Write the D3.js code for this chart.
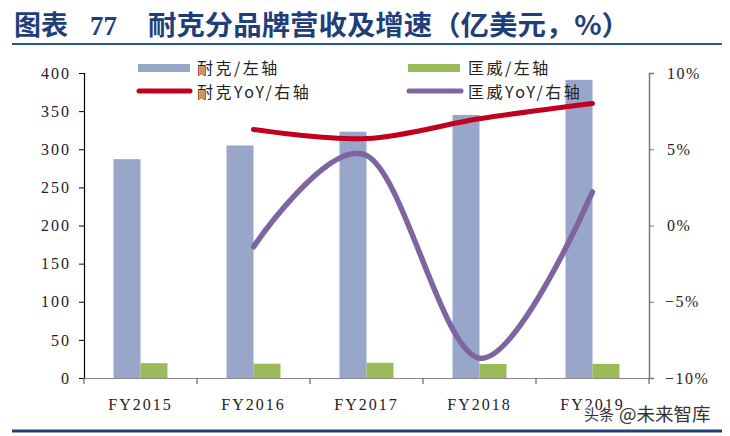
<!DOCTYPE html>
<html><head><meta charset="utf-8">
<script src="https://cdn.jsdelivr.net/npm/d3@7"></script>
<style>body{margin:0;background:#fff}svg{display:block}</style>
</head><body>
<svg id="c" width="730" height="436"></svg>
<script>
const categories = ["FY2015","FY2016","FY2017","FY2018","FY2019"];
const nikeRevenue = [287, 305, 323, 345, 391];
const converseRevenue = [19.5, 18.8, 20.0, 18.4, 18.5];
const nikeYoY = [null, 6.3, 5.7, 7.0, 8.0];
const converseYoY = [null, -1.4, 4.6, -8.7, 2.2];
const leftTicks = [0,50,100,150,200,250,300,350,400];
const rightTicks = [-10,-5,0,5,10];

const svg = d3.select("#c");
const L = 84, R = 649, T = 73, B = 378;
const serif = "'Liberation Serif','DejaVu Serif',serif";
const cjk = "'Noto Sans CJK SC','Noto Sans',sans-serif";
const C = {nike:"#98A6C9", converse:"#9BBB59", nikeL:"#C0001E", convL:"#8064A2", title:"#1F3F7A"};

// Title
const t = svg.append("text").attr("y", 35).attr("fill", C.title).attr("font-family", cjk).attr("font-weight", "bold").attr("font-size", 27);
t.append("tspan").attr("x", 14).text("图表");
t.append("tspan").attr("x", 90).attr("font-family", serif).text("77");
t.append("tspan").attr("x", 148).attr("textLength", 482).attr("lengthAdjust","spacingAndGlyphs").text("耐克分品牌营收及增速（亿美元，%）");
svg.append("line").attr("x1", 12).attr("x2", 722).attr("y1", 44).attr("y2", 44).attr("stroke", "#2B5597").attr("stroke-width", 2);
svg.append("line").attr("x1", 12).attr("x2", 722).attr("y1", 431).attr("y2", 431).attr("stroke", "#1F3F7A").attr("stroke-width", 3);

// Scales
const x0 = d3.scaleBand().domain(categories).range([L, R]).padding(0);
const bw = x0.bandwidth();
const x1 = d3.scaleBand().domain(["nike","converse"]).range([bw/2 - 27, bw/2 + 27]);
const y = d3.scaleLinear().domain([0, 400]).range([B, T]);
const y2 = d3.scaleLinear().domain([-10, 10]).range([B, T]);

// Bars
const g = svg.append("g");
g.selectAll(".nb").data(categories).join("rect")
  .attr("x", d => x0(d) + x1("nike")).attr("width", x1.bandwidth())
  .attr("y", (d,i) => y(nikeRevenue[i])).attr("height", (d,i) => y(0) - y(nikeRevenue[i]))
  .attr("fill", C.nike);
g.selectAll(".cb").data(categories).join("rect")
  .attr("x", d => x0(d) + x1("converse")).attr("width", x1.bandwidth())
  .attr("y", (d,i) => y(converseRevenue[i])).attr("height", (d,i) => y(0) - y(converseRevenue[i]))
  .attr("fill", C.converse);

// Axes
const axL = svg.append("g").attr("transform", `translate(${L},0)`)
  .call(d3.axisLeft(y).tickValues(leftTicks).tickSize(5).tickPadding(10));
axL.select(".domain").attr("stroke", "#000").attr("stroke-width", 1.2);
axL.selectAll(".tick line").attr("stroke", "#000");
axL.selectAll("text").attr("font-family", serif).attr("font-size", 16).attr("fill", "#222").attr("letter-spacing", 2).attr("dx", 2);

const axR = svg.append("g").attr("transform", `translate(${R},0)`)
  .call(d3.axisRight(y2).tickValues(rightTicks).tickSize(5).tickPadding(13).tickFormat(d => (d < 0 ? "\u2212" + Math.abs(d) : d) + "%"));
axR.select(".domain").attr("stroke", "#777").attr("stroke-width", 1.5);
axR.selectAll(".tick line").attr("stroke", "#777");
axR.selectAll("text").attr("font-family", serif).attr("font-size", 16).attr("fill", "#222").attr("letter-spacing", 1.5)
  .attr("dx", d => d < 0 ? -2 : 0);

const axB = svg.append("g").attr("transform", `translate(0,${B})`)
  .call(d3.axisBottom(x0).tickSize(0).tickPadding(21));
axB.select(".domain").attr("stroke", "#888").attr("stroke-width", 1.2);
axB.selectAll("text").attr("font-family", serif).attr("font-size", 16).attr("fill", "#222").attr("letter-spacing", 2);
svg.append("g").selectAll("line").data(d3.range(categories.length + 1)).join("line")
  .attr("x1", i => L + i * bw).attr("x2", i => L + i * bw).attr("y1", B).attr("y2", B + 6)
  .attr("stroke", "#666").attr("stroke-width", 1.2);

// Lines
const line = d3.line().defined(d => d[1] != null)
  .x(d => x0(d[0]) + bw/2).y(d => y2(d[1])).curve(d3.curveCatmullRom.alpha(0));
svg.append("path").datum(categories.map((c,i) => [c, nikeYoY[i]]).filter(d => d[1] != null))
  .attr("d", line).attr("fill", "none").attr("stroke", C.nikeL).attr("stroke-width", 5).attr("stroke-linecap", "round");
svg.append("path").datum(categories.map((c,i) => [c, converseYoY[i]]).filter(d => d[1] != null))
  .attr("d", line).attr("fill", "none").attr("stroke", C.convL).attr("stroke-width", 5.5).attr("stroke-linecap", "round");

// Legend
const lg = svg.append("g").attr("font-family", cjk).attr("font-size", 16).attr("fill", "#222").attr("letter-spacing", 2.5);
lg.append("rect").attr("x", 138).attr("y", 64).attr("width", 52).attr("height", 8).attr("fill", C.nike);
lg.append("rect").attr("x", 408).attr("y", 64).attr("width", 52).attr("height", 8).attr("fill", C.converse);
lg.append("line").attr("x1", 139).attr("x2", 190).attr("y1", 91).attr("y2", 91).attr("stroke", C.nikeL).attr("stroke-width", 5).attr("stroke-linecap", "round");
lg.append("line").attr("x1", 409).attr("x2", 461).attr("y1", 91).attr("y2", 91).attr("stroke", C.convL).attr("stroke-width", 5).attr("stroke-linecap", "round");
lg.append("text").attr("x", 197).attr("y", 74).text("耐克/左轴");
lg.append("text").attr("x", 468).attr("y", 74).text("匡威/左轴");
lg.append("text").attr("x", 197).attr("y", 98).text("耐克YoY/右轴");
lg.append("text").attr("x", 468).attr("y", 98).text("匡威YoY/右轴");

// Watermark (overlaps the last category label, as in the reference)
const wm = svg.append("g").attr("font-family", cjk).attr("fill", "#333").attr("stroke", "#fff").attr("stroke-width", 1.2).attr("paint-order", "stroke");
wm.append("text").attr("x", 584).attr("y", 420).attr("font-size", 15).text("头条");
wm.append("text").attr("x", 619).attr("y", 421).attr("font-size", 18.5).text("@未来智库");
</script>
</body></html>
